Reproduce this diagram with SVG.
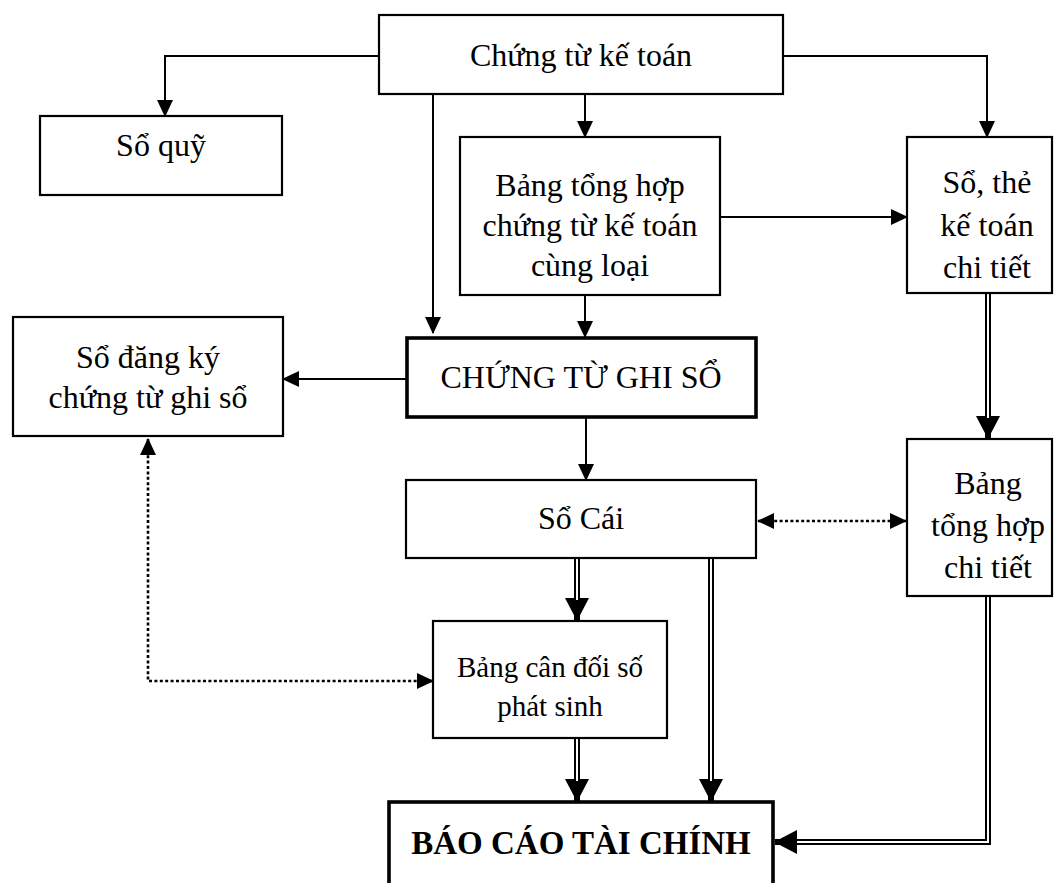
<svg xmlns="http://www.w3.org/2000/svg" width="1054" height="883" viewBox="0 0 1054 883">
  <style>
    .box { fill: #fff; stroke: #000; stroke-width: 2.2; }
    .box-bold { fill: #fff; stroke: #000; stroke-width: 3.6; }
    .label { font-family: "Liberation Serif", "DejaVu Serif", serif; font-size: 32px; fill: #000; text-anchor: middle; }
    .small { font-size: 29px; }
    .strong { font-weight: bold; font-size: 33px; }
    .line { fill: none; stroke: #000; stroke-width: 2; }
    .dotted { fill: none; stroke: #000; stroke-width: 2.6; stroke-dasharray: 3 2.4; }
    .dbl-outer { fill: none; stroke: #000; stroke-width: 6; }
    .dbl-inner { fill: none; stroke: #fff; stroke-width: 2; }
  </style>
  <defs>
    <marker id="arrow" markerUnits="userSpaceOnUse" markerWidth="17" markerHeight="17" refX="16" refY="8.5" orient="auto-start-reverse">
      <path d="M0,0.5 L17,8.5 L0,16.5 z" fill="#000"/>
    </marker>
    <marker id="arrow-big" markerUnits="userSpaceOnUse" markerWidth="23" markerHeight="24" refX="22" refY="12" orient="auto">
      <path d="M0,0 L23,12 L0,24 z" fill="#000"/>
    </marker>
  </defs>

  <rect width="1054" height="883" fill="#fff"/>

  <!-- connectors -->
  <g id="connectors">
    <!-- single arrows -->
    <path class="line" d="M379,56 H165 V116" marker-end="url(#arrow)"/>
    <path class="line" d="M433,94 V333" marker-end="url(#arrow)"/>
    <path class="line" d="M585,94 V137" marker-end="url(#arrow)"/>
    <path class="line" d="M783,56 H987 V137" marker-end="url(#arrow)"/>
    <path class="line" d="M585,295 V337" marker-end="url(#arrow)"/>
    <path class="line" d="M720,217 H907" marker-end="url(#arrow)"/>
    <path class="line" d="M407,379 H283" marker-end="url(#arrow)"/>
    <path class="line" d="M586,417 V480" marker-end="url(#arrow)"/>

    <!-- dotted two-way links -->
    <path class="dotted" d="M758,521 H906" marker-start="url(#arrow)" marker-end="url(#arrow)"/>
    <path class="dotted" d="M148,439 V681 H433" marker-start="url(#arrow)" marker-end="url(#arrow)"/>

    <!-- double-line arrows -->
    <path class="dbl-outer" d="M577,559 V620" marker-end="url(#arrow-big)"/>
    <path class="dbl-inner" d="M577,559 V600"/>

    <path class="dbl-outer" d="M711,559 V801" marker-end="url(#arrow-big)"/>
    <path class="dbl-inner" d="M711,559 V781"/>

    <path class="dbl-outer" d="M577,739 V801" marker-end="url(#arrow-big)"/>
    <path class="dbl-inner" d="M577,739 V781"/>

    <path class="dbl-outer" d="M988,294 V438" marker-end="url(#arrow-big)"/>
    <path class="dbl-inner" d="M988,294 V418"/>

    <path class="dbl-outer" d="M988,597 V842 H775" marker-end="url(#arrow-big)"/>
    <path class="dbl-inner" d="M988,597 V842 H797"/>
  </g>

  <!-- nodes -->
  <g id="chung-tu-ke-toan">
    <rect class="box" x="379" y="15" width="404" height="79"/>
    <text class="label" x="581" y="66">Chứng từ kế toán</text>
  </g>

  <g id="so-quy">
    <rect class="box" x="40" y="116" width="242" height="79"/>
    <text class="label" x="161" y="156">Sổ quỹ</text>
  </g>

  <g id="bang-tong-hop-chung-tu">
    <rect class="box" x="460" y="137" width="260" height="158"/>
    <text class="label" x="590" y="196">Bảng tổng hợp</text>
    <text class="label" x="590" y="236">chứng từ kế toán</text>
    <text class="label" x="590" y="276">cùng loại</text>
  </g>

  <g id="so-the-ke-toan-chi-tiet">
    <rect class="box" x="907" y="137" width="145" height="156"/>
    <text class="label" x="987" y="193">Sổ, thẻ</text>
    <text class="label" x="987" y="236">kế toán</text>
    <text class="label" x="987" y="278">chi tiết</text>
  </g>

  <g id="so-dang-ky">
    <rect class="box" x="13" y="317" width="270" height="119"/>
    <text class="label" x="148" y="368">Sổ đăng ký</text>
    <text class="label" x="148" y="408">chứng từ ghi sổ</text>
  </g>

  <g id="chung-tu-ghi-so">
    <rect class="box-bold" x="407" y="338" width="349" height="79"/>
    <text class="label" x="581" y="388">CHỨNG TỪ GHI SỔ</text>
  </g>

  <g id="so-cai">
    <rect class="box" x="406" y="480" width="350" height="78"/>
    <text class="label" x="581" y="529">Sổ Cái</text>
  </g>

  <g id="bang-tong-hop-chi-tiet">
    <rect class="box" x="907" y="439" width="145" height="157"/>
    <text class="label" x="988" y="494">Bảng</text>
    <text class="label" x="988" y="536">tổng hợp</text>
    <text class="label" x="988" y="578">chi tiết</text>
  </g>

  <g id="bang-can-doi">
    <rect class="box" x="433" y="621" width="234" height="117"/>
    <text class="label small" x="550" y="677">Bảng cân đối số</text>
    <text class="label small" x="550" y="716">phát sinh</text>
  </g>

  <g id="bao-cao-tai-chinh">
    <rect class="box-bold" x="389" y="802" width="384" height="100"/>
    <text class="label strong" x="581" y="854">BÁO CÁO TÀI CHÍNH</text>
  </g>
</svg>
